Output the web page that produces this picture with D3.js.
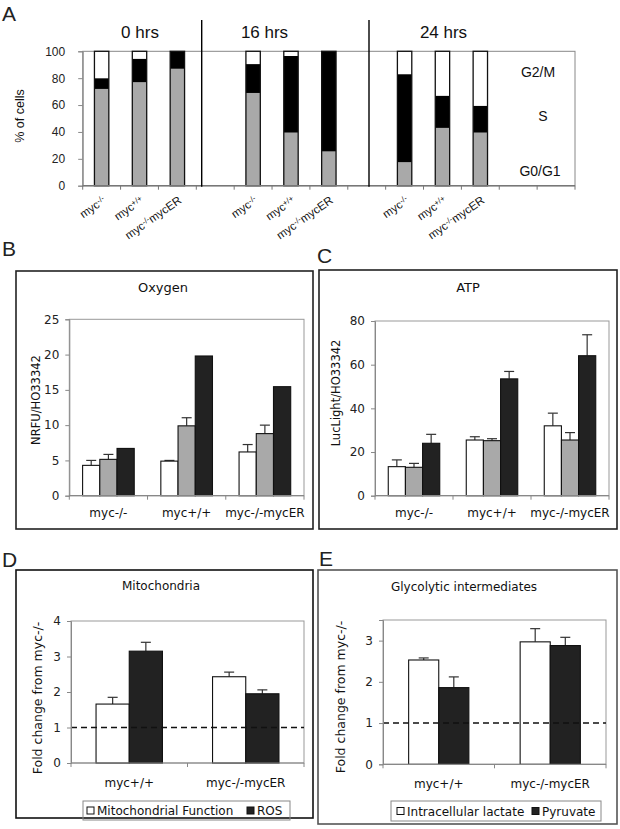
<!DOCTYPE html>
<html lang="en">
<head>
<meta charset="UTF-8" />
<title>Myc: cell cycle and metabolism</title>
<style>
  body { margin: 0; background: #fff; }
  svg { display: block; }
  text { font-family: "DejaVu Sans", sans-serif; fill: #111; }
  .lbl { font-family: "Liberation Sans", Arial, sans-serif; }
</style>
</head>
<body>
<svg id="figure" width="620" height="829"></svg>
<script src="https://cdn.jsdelivr.net/npm/d3@7/dist/d3.min.js"></script>
<script>
// ---- panel A: cell cycle (% of cells) ----
const cycleLabels = ["myc-/-", "myc+/+", "myc-/-mycER", "", "myc-/-", "myc+/+", "myc-/-mycER", "", "myc-/-", "myc+/+", "myc-/-mycER", "", ""];
const g0g1 = [72, 77, 87, null, 69, 39.5, 25.5, null, 17.5, 43, 39.5, null, null];
const sPhase = [8, 17.5, 13, null, 21.5, 57, 74.5, null, 65.5, 24, 20, null, null];
const g2m = [20, 5.5, 0, null, 9.5, 3.5, 0, null, 17, 33, 40.5, null, null];
const timepoints = ["0 hrs", "16 hrs", "24 hrs"];
const phaseNames = ["G2/M", "S", "G0/G1"];
const cycleTicks = [0, 20, 40, 60, 80, 100];

// ---- panels B, C: oxygen and ATP ----
const cellLines = ["myc-/-", "myc+/+", "myc-/-mycER"];
const oxygen1 = [4.3, 4.9, 6.2];
const oxygen1Err = [0.7, 0.1, 1.05];
const oxygen2 = [5.15, 9.9, 8.8];
const oxygen2Err = [0.7, 1.15, 1.2];
const oxygen3 = [6.7, 19.8, 15.45];
const oxygenTicks = [0, 5, 10, 15, 20, 25];

const atp1 = [13.3, 25.5, 32.0];
const atp1Err = [3.1, 1.5, 5.8];
const atp2 = [13.0, 25.2, 25.5];
const atp2Err = [1.8, 0.9, 3.4];
const atp3 = [24.0, 53.5, 64.1];
const atp3Err = [4.1, 3.4, 9.6];
const atpTicks = [0, 20, 40, 60, 80];

// ---- panels D, E: fold change from myc-/- ----
const foldGroups = ["myc+/+", "myc-/-mycER"];
const mitoFunction = [1.66, 2.43];
const mitoFunctionErr = [0.19, 0.13];
const ros = [3.15, 1.95];
const rosErr = [0.25, 0.11];
const mitoTicks = [0, 1, 2, 3, 4];

const lactate = [2.53, 2.97];
const lactateErr = [0.05, 0.32];
const pyruvate = [1.86, 2.88];
const pyruvateErr = [0.26, 0.2];
const glycoTicks = [0, 1, 2, 3];

const WHITE = '#ffffff', GRAY = '#a9a9a9', DARK = '#222222';

const svg = d3.select('#figure');

function panelLetter(ch, x, y) {
    svg.append('text').attr('class', 'lbl')
        .attr('x', x).attr('y', y)
        .attr('font-size', 21).style('fill', '#222')
        .text(ch);
}

// "myc-/-mycER" -> myc + raised small "-/-" + mycER
function genotype(sel, label) {
    const m = label.match(/^myc([-+]\/[-+])(.*)$/);
    sel.text('myc');
    sel.append('tspan').attr('font-size', 8).attr('dy', -3).text(m[1]);
    if (m[2]) sel.append('tspan').attr('dy', 3).text(m[2]);
}

// ================= panel A =================
(function () {
    const left = 82.7, right = 575, top = 51.3, bottom = 185.7;
    const x = d3.scaleBand().domain(d3.range(cycleLabels.length)).range([left, right]);
    const y = d3.scaleLinear().domain([0, 100]).range([bottom, top]);
    const g = svg.append('g');

    panelLetter('A', 2, 21);

    g.append('rect')
        .attr('x', left).attr('y', top)
        .attr('width', right - left).attr('height', bottom - top)
        .attr('fill', 'none').attr('stroke', '#888');

    const rows = cycleLabels.map((c, i) => ({ i, g0g1: g0g1[i] || 0, s: sPhase[i] || 0, g2m: g2m[i] || 0 }))
        .filter(d => cycleLabels[d.i] !== '');
    const layers = d3.stack().keys(['g0g1', 's', 'g2m'])(rows);
    const fills = { g0g1: GRAY, s: '#000', g2m: WHITE };
    const bw = x.bandwidth() * 0.38;

    layers.forEach(layer => {
        g.selectAll(null)
            .data(layer.filter(d => d[1] > d[0]))
            .enter().append('rect')
            .attr('x', d => x(d.data.i) + x.bandwidth() / 2 - bw / 2)
            .attr('y', d => y(d[1]))
            .attr('width', bw)
            .attr('height', d => y(d[0]) - y(d[1]))
            .attr('fill', fills[layer.key]);
    });
    // bar outlines
    g.selectAll(null)
        .data(rows)
        .enter().append('rect')
        .attr('x', d => x(d.i) + x.bandwidth() / 2 - bw / 2)
        .attr('y', y(100))
        .attr('width', bw)
        .attr('height', y(0) - y(100))
        .attr('fill', 'none').attr('stroke', '#111').attr('stroke-width', 1.3);

    const yAxis = g.append('g').attr('transform', `translate(${left},0)`)
        .call(d3.axisLeft(y).tickValues(cycleTicks).tickSize(4.5).tickPadding(13));
    yAxis.select('.domain').attr('stroke', '#888');
    yAxis.selectAll('line').attr('stroke', '#888');
    yAxis.selectAll('text').attr('class', 'lbl').attr('font-size', 12).style('fill', '#222');

    // bottom axis: ticks at band edges
    g.append('line').attr('x1', left).attr('x2', right).attr('y1', bottom).attr('y2', bottom)
        .attr('stroke', '#777').attr('stroke-width', 1.5);
    g.selectAll(null).data(d3.range(cycleLabels.length + 1)).enter().append('line')
        .attr('x1', i => left + i * x.step()).attr('x2', i => left + i * x.step())
        .attr('y1', bottom).attr('y2', bottom + 4).attr('stroke', '#777');

    g.selectAll(null)
        .data(rows)
        .enter().append('text')
        .attr('class', 'lbl')
        .attr('font-size', 11.5)
        .attr('text-anchor', 'end')
        .attr('transform', d => `translate(${x(d.i) + x.bandwidth() / 2 + 5},202) rotate(-35)`)
        .each(function (d) { genotype(d3.select(this), cycleLabels[d.i]); });

    // timepoint separators and headers
    [201.7, 369].forEach(sx => {
        g.append('line').attr('x1', sx).attr('x2', sx).attr('y1', 20).attr('y2', bottom + 1)
            .attr('stroke', '#000').attr('stroke-width', 1.4);
    });
    const headX = [140, 264.5, 443.5];
    g.selectAll(null).data(timepoints).enter().append('text')
        .attr('class', 'lbl').attr('font-size', 17).attr('text-anchor', 'middle')
        .attr('x', (d, i) => headX[i]).attr('y', 38)
        .text(d => d);

    const phaseY = [77, 121, 176], phaseX = [538, 543, 540];
    g.selectAll(null).data(phaseNames).enter().append('text')
        .attr('class', 'lbl').attr('font-size', 14).attr('text-anchor', 'middle')
        .attr('x', (d, i) => phaseX[i]).attr('y', (d, i) => phaseY[i])
        .text(d => d);

    g.append('text').attr('class', 'lbl').attr('font-size', 12.5).attr('text-anchor', 'middle')
        .attr('transform', 'translate(24,116) rotate(-90)')
        .text('% of cells');
})();

// ================= panels B-E =================
function barPanel(cfg) {
    const g = svg.append('g');
    const p = cfg.plot;

    g.append('rect')
        .attr('x', cfg.box[0]).attr('y', cfg.box[1])
        .attr('width', cfg.box[2] - cfg.box[0]).attr('height', cfg.box[3] - cfg.box[1])
        .attr('fill', 'none').attr('stroke', cfg.boxColor).attr('stroke-width', 1.6);
    panelLetter(cfg.letter, cfg.letterPos[0], cfg.letterPos[1]);

    g.append('text').attr('text-anchor', 'middle')
        .attr('x', cfg.titlePos[0]).attr('y', cfg.titlePos[1])
        .attr('font-size', cfg.titleSize || 13)
        .text(cfg.title);

    const x = d3.scaleBand().domain(cfg.groups).range([p.left, p.right]);
    const y = d3.scaleLinear().domain(cfg.domain).range([p.bottom, p.top]);
    const span = x.bandwidth() * cfg.fill;
    const inner = d3.scaleBand().domain(d3.range(cfg.series.length))
        .range([x.bandwidth() / 2 - span / 2, x.bandwidth() / 2 + span / 2]);

    g.append('rect')
        .attr('x', p.left).attr('y', p.top)
        .attr('width', p.right - p.left).attr('height', p.bottom - p.top)
        .attr('fill', 'none').attr('stroke', '#999');

    cfg.series.forEach((s, si) => {
        const bars = g.selectAll(null)
            .data(s.values.map((v, gi) => ({ v, e: s.err ? s.err[gi] : 0, grp: cfg.groups[gi] })))
            .enter();
        bars.filter(d => d.e > 0).append('line')
            .attr('x1', d => x(d.grp) + inner(si) + inner.bandwidth() / 2)
            .attr('x2', d => x(d.grp) + inner(si) + inner.bandwidth() / 2)
            .attr('y1', d => y(d.v)).attr('y2', d => y(d.v + d.e))
            .attr('stroke', '#333').attr('stroke-width', 1.2);
        bars.filter(d => d.e > 0).append('line')
            .attr('x1', d => x(d.grp) + inner(si) + inner.bandwidth() / 2 - 5)
            .attr('x2', d => x(d.grp) + inner(si) + inner.bandwidth() / 2 + 5)
            .attr('y1', d => y(d.v + d.e)).attr('y2', d => y(d.v + d.e))
            .attr('stroke', '#333').attr('stroke-width', 1.2);
        bars.append('rect')
            .attr('x', d => x(d.grp) + inner(si))
            .attr('y', d => y(d.v))
            .attr('width', inner.bandwidth())
            .attr('height', d => y(0) - y(d.v))
            .attr('fill', s.color)
            .attr('stroke', '#111').attr('stroke-width', 1.1);
    });

    if (cfg.dashedAt != null) {
        g.append('line')
            .attr('x1', p.left).attr('x2', p.right)
            .attr('y1', y(cfg.dashedAt)).attr('y2', y(cfg.dashedAt))
            .attr('stroke', '#111').attr('stroke-width', 1.4)
            .attr('stroke-dasharray', '6,4');
    }

    const yAxis = g.append('g').attr('transform', `translate(${p.left},0)`)
        .call(d3.axisLeft(y).tickValues(cfg.ticks).tickFormat(d3.format('d')).tickSize(4).tickPadding(6));
    yAxis.select('.domain').attr('stroke', '#888');
    yAxis.selectAll('line').attr('stroke', '#888');
    yAxis.selectAll('text').attr('font-size', 12).style('font-family', '"DejaVu Sans", sans-serif').style('fill', '#222');

    g.append('line').attr('x1', p.left).attr('x2', p.right).attr('y1', p.bottom).attr('y2', p.bottom)
        .attr('stroke', '#888').attr('stroke-width', 1.2);
    g.selectAll(null).data(d3.range(cfg.groups.length + 1)).enter().append('line')
        .attr('x1', i => p.left + i * x.step()).attr('x2', i => p.left + i * x.step())
        .attr('y1', p.bottom).attr('y2', p.bottom + 4).attr('stroke', '#888');

    g.selectAll(null).data(cfg.groups).enter().append('text')
        .attr('text-anchor', 'middle').attr('font-size', 12)
        .attr('x', d => x(d) + x.bandwidth() / 2)
        .attr('y', p.bottom + cfg.labelGap)
        .text(d => d);

    g.append('text').attr('text-anchor', 'middle').attr('font-size', cfg.ylabelSize || 11.5)
        .attr('transform', `translate(${cfg.ylabelPos[0]},${cfg.ylabelPos[1]}) rotate(-90)`)
        .text(cfg.ylabel);

    if (cfg.legend) {
        const L = cfg.legend;
        g.append('rect').attr('x', L.box[0]).attr('y', L.box[1])
            .attr('width', L.box[2] - L.box[0]).attr('height', L.box[3] - L.box[1])
            .attr('fill', 'none').attr('stroke', '#888');
        const cy = (L.box[1] + L.box[3]) / 2;
        cfg.series.forEach((s, si) => {
            g.append('rect').attr('x', L.at[si]).attr('y', cy - 3.5)
                .attr('width', 7).attr('height', 7)
                .attr('fill', s.color).attr('stroke', '#111');
            g.append('text').attr('x', L.at[si] + 10).attr('y', cy + 4.5)
                .attr('font-size', 12).text(s.name);
        });
    }
}

barPanel({
    letter: 'B', letterPos: [2, 256],
    box: [16, 271, 313, 529], boxColor: '#222',
    title: 'Oxygen', titlePos: [163, 292],
    plot: { left: 69.3, right: 304, top: 319.3, bottom: 495.7 },
    domain: [0, 25], ticks: oxygenTicks,
    groups: cellLines, fill: 0.66,
    series: [
        { color: WHITE, values: oxygen1, err: oxygen1Err },
        { color: GRAY, values: oxygen2, err: oxygen2Err },
        { color: DARK, values: oxygen3 }
    ],
    labelGap: 21, ylabel: 'NRFU/HO33342', ylabelPos: [40, 400]
});

barPanel({
    letter: 'C', letterPos: [317, 263],
    box: [319, 270, 617, 529], boxColor: '#222',
    title: 'ATP', titlePos: [468, 292],
    plot: { left: 375, right: 609, top: 321, bottom: 495.7 },
    domain: [0, 80], ticks: atpTicks,
    groups: cellLines, fill: 0.66,
    series: [
        { color: WHITE, values: atp1, err: atp1Err },
        { color: GRAY, values: atp2, err: atp2Err },
        { color: DARK, values: atp3, err: atp3Err }
    ],
    labelGap: 21, ylabel: 'LucLight/HO33342', ylabelPos: [340, 393]
});

barPanel({
    letter: 'D', letterPos: [2, 567],
    box: [16, 570, 313, 818], boxColor: '#111',
    title: 'Mitochondria', titlePos: [161, 590], titleSize: 12,
    plot: { left: 71, right: 304, top: 621, bottom: 763 },
    domain: [0, 4], ticks: mitoTicks,
    groups: foldGroups, fill: 0.57,
    series: [
        { name: 'Mitochondrial Function', color: WHITE, values: mitoFunction, err: mitoFunctionErr },
        { name: 'ROS', color: DARK, values: ros, err: rosErr }
    ],
    dashedAt: 1,
    labelGap: 24, ylabel: 'Fold change from myc-/-', ylabelPos: [42, 698], ylabelSize: 12.5,
    legend: { box: [83, 801, 290, 820], at: [87, 247] }
});

barPanel({
    letter: 'E', letterPos: [319, 566],
    box: [318, 570, 617, 824], boxColor: '#555',
    title: 'Glycolytic intermediates', titlePos: [464, 591], titleSize: 12,
    plot: { left: 383, right: 606, top: 620, bottom: 764.3 },
    domain: [0, 3.5], ticks: glycoTicks,
    groups: foldGroups, fill: 0.54,
    series: [
        { name: 'Intracellular lactate', color: WHITE, values: lactate, err: lactateErr },
        { name: 'Pyruvate', color: DARK, values: pyruvate, err: pyruvateErr }
    ],
    dashedAt: 1,
    labelGap: 24, ylabel: 'Fold change from myc-/-', ylabelPos: [345, 697], ylabelSize: 12.5,
    legend: { box: [391, 801, 601, 821], at: [397, 532] }
});
</script>
</body>
</html>
